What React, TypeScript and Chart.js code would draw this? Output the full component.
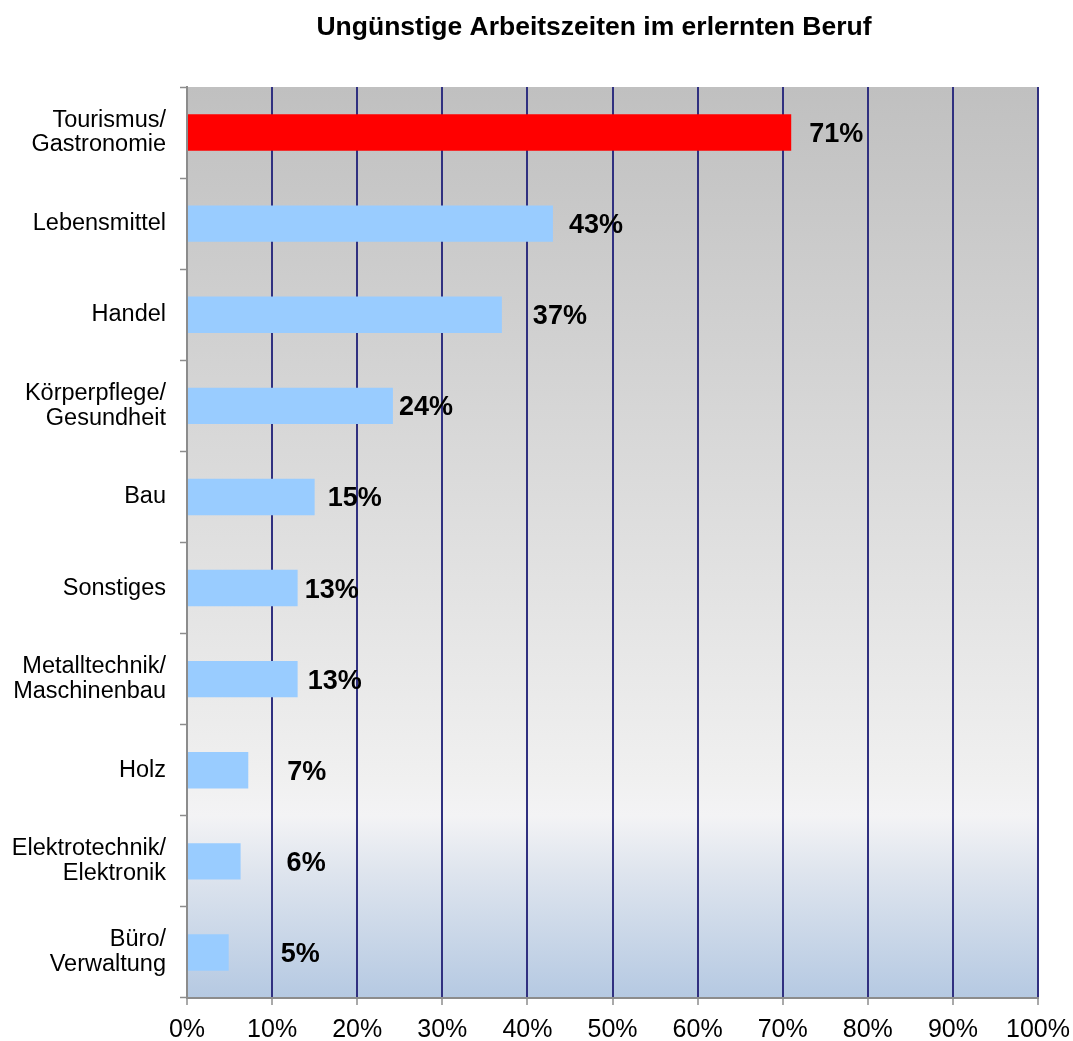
import React, { useEffect, useRef } from "react";
import { Chart, registerables } from "chart.js";

Chart.register(...registerables);

const TITLE = "Ungünstige Arbeitszeiten im erlernten Beruf";

const categories: (string | string[])[] = [
  ["Tourismus/", "Gastronomie"],
  "Lebensmittel",
  "Handel",
  ["Körperpflege/", "Gesundheit"],
  "Bau",
  "Sonstiges",
  ["Metalltechnik/", "Maschinenbau"],
  "Holz",
  ["Elektrotechnik/", "Elektronik"],
  ["Büro/", "Verwaltung"],
];

const values = [71, 43, 37, 24.2, 15, 13, 13, 7.2, 6.3, 4.9];

const valueLabels = ["71%", "43%", "37%", "24%", "15%", "13%", "13%", "7%", "6%", "5%"];

const xTicks = [0, 10, 20, 30, 40, 50, 60, 70, 80, 90, 100];

// label gap after bar end (styling, pixels)
const labelGaps = [18, 16, 31, 6, 13, 7, 10, 39, 46, 52];

const FONT = '"Liberation Sans", Arial, sans-serif';

export default function App() {
  const ref = useRef<HTMLCanvasElement | null>(null);

  useEffect(() => {
    if (!ref.current) return;

    const bgPlugin = {
      id: "bgGradient",
      beforeDraw(chart: any) {
        const { ctx, chartArea } = chart;
        const { left, right, top, bottom } = chartArea;
        const g = ctx.createLinearGradient(0, top, 0, bottom);
        g.addColorStop(0, "#c0c0c0");
        g.addColorStop(0.4, "#d9d9d9");
        g.addColorStop(0.76, "#f0f0f0");
        g.addColorStop(0.8, "#f3f3f5");
        g.addColorStop(0.86, "#dfe5ee");
        g.addColorStop(1, "#b5c9e2");
        ctx.save();
        ctx.fillStyle = g;
        ctx.fillRect(left, top, right - left, bottom - top);
        ctx.restore();
      },
    };

    const labelPlugin = {
      id: "valueLabels",
      afterDatasetsDraw(chart: any) {
        const { ctx } = chart;
        const meta = chart.getDatasetMeta(0);
        ctx.save();
        ctx.font = `bold 27px ${FONT}`;
        ctx.fillStyle = "#000000";
        ctx.textAlign = "left";
        ctx.textBaseline = "middle";
        meta.data.forEach((bar: any, i: number) => {
          ctx.fillText(valueLabels[i], bar.x + labelGaps[i], bar.y + 2);
        });
        ctx.restore();
      },
    };

    const titlePlugin = {
      id: "customTitle",
      afterDraw(chart: any) {
        const { ctx } = chart;
        ctx.save();
        ctx.font = `bold 26.5px ${FONT}`;
        ctx.fillStyle = "#000000";
        ctx.textAlign = "center";
        ctx.textBaseline = "middle";
        ctx.fillText(TITLE, 594, 28);
        ctx.restore();
      },
    };

    const chart = new Chart(ref.current, {
      type: "bar",
      data: {
        labels: categories,
        datasets: [
          {
            data: values,
            backgroundColor: values.map((_, i) => (i === 0 ? "#ff0000" : "#99ccff")),
            borderWidth: 0,
            barPercentage: 0.4,
            categoryPercentage: 1,
          },
        ],
      },
      options: {
        indexAxis: "y",
        responsive: false,
        animation: false,
        devicePixelRatio: 1,
        layout: { padding: { top: 87, right: 35, left: 0, bottom: 0 } },
        plugins: {
          legend: { display: false },
          tooltip: { enabled: false },
          title: { display: false },
        },
        scales: {
          x: {
            type: "linear",
            min: 0,
            max: 100,
            afterBuildTicks(scale: any) {
              scale.ticks = xTicks.map((v) => ({ value: v }));
            },
            afterFit(scale: any) {
              scale.height = 43;
              scale.paddingLeft = 0;
              scale.paddingRight = 0;
            },
            ticks: {
              callback: (v: any) => `${v}%`,
              color: "#000000",
              font: { family: FONT, size: 25 },
              padding: 10,
              maxRotation: 0,
            },
            grid: {
              color: "#303080",
              lineWidth: 2,
              tickColor: "#8c8c8c",
              tickLength: 7,
              tickWidth: 1.5,
              drawTicks: true,
            },
            border: { color: "#8c8c8c", width: 2 },
          },
          y: {
            type: "category",
            offset: true,
            afterFit(scale: any) {
              scale.width = 187;
            },
            ticks: {
              color: "#000000",
              font: { family: FONT, size: 23.5, lineHeight: 1.06 },
              padding: 14,
            },
            grid: {
              offset: true,
              drawOnChartArea: false,
              drawTicks: true,
              tickLength: 7,
              color: "#8c8c8c",
              tickColor: "#8c8c8c",
              tickWidth: 1.5,
            },
            border: { color: "#8c8c8c", width: 2 },
          },
        },
      },
      plugins: [bgPlugin, labelPlugin, titlePlugin],
    });

    return () => chart.destroy();
  }, []);

  return (
    <div style={{ position: "absolute", left: 0, top: 0, width: 1073, height: 1041, background: "#ffffff" }}>
      <canvas ref={ref} width={1073} height={1041} />
    </div>
  );
}
